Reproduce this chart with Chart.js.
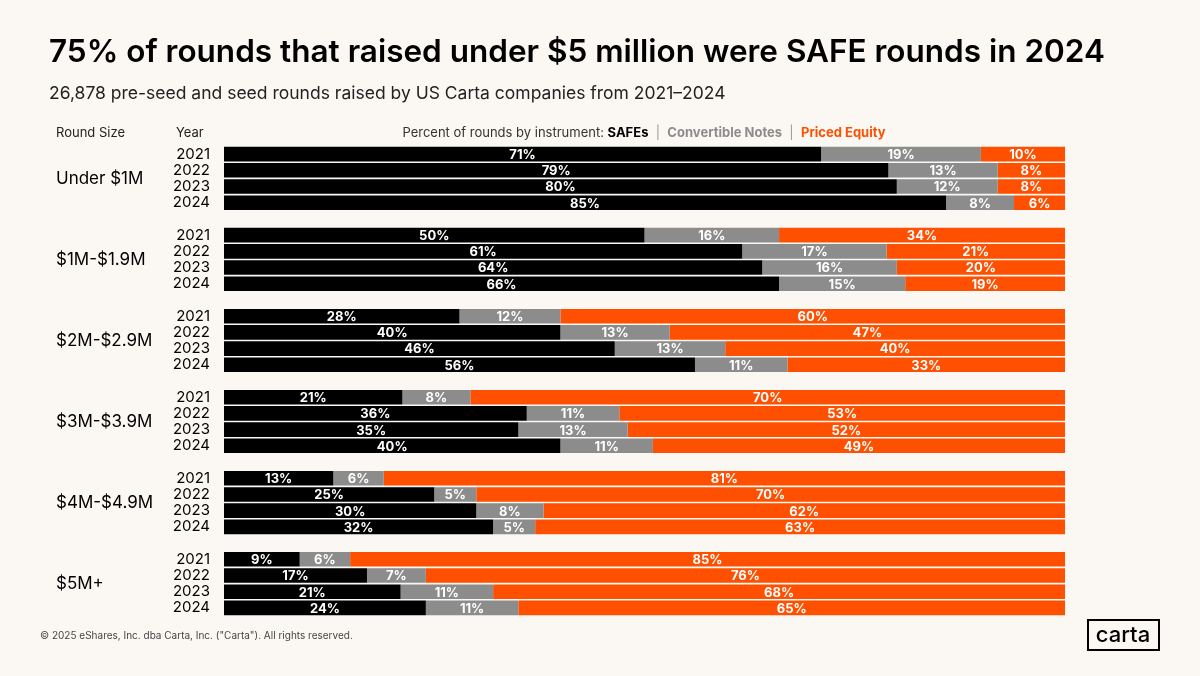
<!DOCTYPE html>
<html><head><meta charset="utf-8">
<script src="https://cdn.jsdelivr.net/npm/chart.js@4"></script>
<style>html,body{margin:0;padding:0;background:#fbf8f4}canvas{display:block}</style>
</head><body>
<div style="width:1200px;height:676px;position:relative"><canvas id="c" width="1200" height="676"></canvas></div>
<script>
const groups = ["Under $1M","$1M-$1.9M","$2M-$2.9M","$3M-$3.9M","$4M-$4.9M","$5M+"];
const years = ["2021","2022","2023","2024"];
const safes = [71,79,80,85, 50,61,64,66, 28,40,46,56, 21,36,35,40, 13,25,30,32, 9,17,21,24];
const notes = [19,13,12,8, 16,17,16,15, 12,13,13,11, 8,11,13,11, 6,5,8,5, 6,7,11,11];
const priced = [10,8,8,6, 34,21,20,19, 60,47,40,33, 70,53,52,49, 81,70,62,63, 85,76,68,65];

const labels=[], dS=[], dN=[], dP=[], rS=[], rN=[], rP=[];
groups.forEach((g,gi)=>{
  years.forEach((y,yi)=>{
    const i=gi*4+yi, s=safes[i]+notes[i]+priced[i];
    labels.push(y);
    dS.push(safes[i]*100/s); dN.push(notes[i]*100/s); dP.push(priced[i]*100/s);
    rS.push(safes[i]); rN.push(notes[i]); rP.push(priced[i]);
  });
  if(gi<groups.length-1){labels.push("");dS.push(null);dN.push(null);dP.push(null);rS.push(null);rN.push(null);rP.push(null);}
});
const raw=[rS,rN,rP];
const FONT="Inter, 'Noto Sans', sans-serif";

const deco={id:'deco',
 afterDatasetsDraw(ch){
  const c=ch.ctx;
  c.save();
  ch.data.datasets.forEach((ds,di)=>{
    ch.getDatasetMeta(di).data.forEach((el,i)=>{
      const v=raw[di][i]; if(v==null) return;
      const l=Math.min(el.x,el.base), r=Math.max(el.x,el.base);
      c.fillStyle='#fff'; c.font='bold 13px '+FONT; c.textAlign='center'; c.textBaseline='middle';
      c.fillText(v+'%',(l+r)/2,el.y+1);
    });
  });
  c.restore();
 },
 afterDraw(ch){
  const c=ch.ctx, ys=ch.scales.y;
  c.save();
  c.fillStyle='#000'; c.textBaseline='alphabetic'; c.textAlign='left';
  c.font='600 31.5px '+FONT; c.fillText('75% of rounds that raised under $5 million were SAFE rounds in 2024',49,62);
  c.font='17.5px '+FONT; c.fillStyle='#222'; c.fillText('26,878 pre-seed and seed rounds raised by US Carta companies from 2021–2024',49,99);
  c.font='13px '+FONT; c.fillStyle='#222';
  c.fillText('Round Size',56,137); c.fillText('Year',176,137);
  const parts=[['Percent of rounds by instrument: ','400','#333'],['SAFEs','700','#000'],['  |  ','400','#999'],['Convertible Notes','700','#8c8c8c'],['  |  ','400','#999'],['Priced Equity','700','#fe5000']];
  let w=0; parts.forEach(p=>{c.font=p[1]+' 13px '+FONT; w+=c.measureText(p[0]).width;});
  let x=644-w/2;
  parts.forEach(p=>{c.font=p[1]+' 13px '+FONT; c.fillStyle=p[2]; c.fillText(p[0],x,137); x+=c.measureText(p[0]).width;});
  c.font='17px '+FONT; c.fillStyle='#000'; c.textBaseline='middle';
  groups.forEach((g,gi)=>{
    const y=(ys.getPixelForValue(gi*5)+ys.getPixelForValue(gi*5+3))/2;
    c.fillText(g,56,y);
  });
  c.textBaseline='alphabetic'; c.font='10px '+FONT; c.fillStyle='#444';
  c.fillText('© 2025 eShares, Inc. dba Carta, Inc. ("Carta"). All rights reserved.',40,639);
  c.strokeStyle='#000'; c.lineWidth=2; c.strokeRect(1088,620,71,30);
  c.font='500 22px '+FONT; c.fillStyle='#000'; c.textAlign='center'; c.fillText('carta',1123,642);
  c.restore();
 }};

new Chart(document.getElementById('c'),{
 type:'bar',
 data:{labels,datasets:[
  {label:'SAFEs',data:dS,backgroundColor:'#000'},
  {label:'Convertible Notes',data:dN,backgroundColor:'#8c8c8c'},
  {label:'Priced Equity',data:dP,backgroundColor:'#fe5000'}]},
 options:{indexAxis:'y',responsive:false,animation:false,
  layout:{padding:{left:0,top:146,bottom:60,right:135}},
  datasets:{bar:{barPercentage:0.9,categoryPercentage:1,borderWidth:0}},
  plugins:{legend:{display:false},tooltip:{enabled:false}},
  scales:{
   x:{stacked:true,min:0,max:100,display:false},
   y:{stacked:true,grid:{display:false},border:{display:false},
      ticks:{color:'#000',font:{size:15,family:FONT},padding:6,autoSkip:false},
      afterFit(s){s.width=224;}}
  }},
 plugins:[deco]
});
</script></body></html>
